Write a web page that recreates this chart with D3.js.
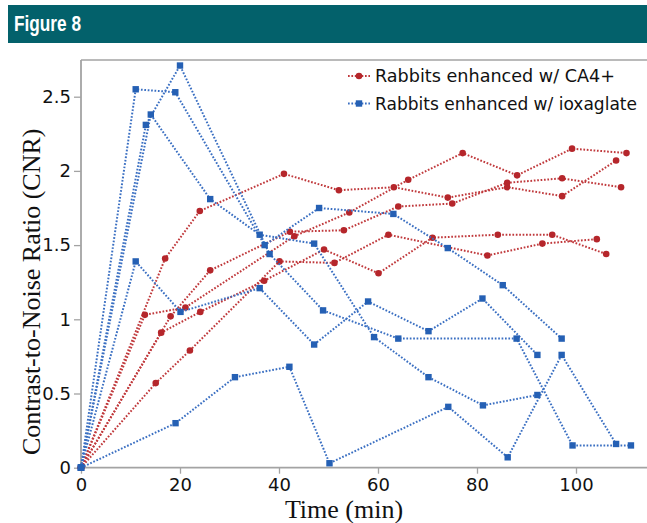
<!DOCTYPE html>
<html><head><meta charset="utf-8">
<script src="https://cdn.jsdelivr.net/npm/d3@7"></script>
<style>html,body{margin:0;padding:0;background:#fff;overflow:hidden}</style>
</head><body>
<svg id="c" width="647" height="523"></svg>
<script>
// ---- data: [time (min), CNR] ----
const legendLabels = ["Rabbits enhanced w/ CA4+", "Rabbits enhanced w/ ioxaglate"];
const xTicks = [0, 20, 40, 60, 80, 100];
const yTicks = [0, 0.5, 1, 1.5, 2, 2.5];
const yTickLabels = ["0", "0.5", "1", "1.5", "2", "2.5"];

// CA4+ rabbits
const ca1 = [[0,0],[17.0,1.41],[24.0,1.73],[41.0,1.98],[52.1,1.87],[63.2,1.89],[74.1,1.82],[86.1,1.89],[97.2,1.83],[108.1,2.07]];
const ca2 = [[0,0],[18.1,1.02],[26.1,1.33],[42.2,1.59],[53.1,1.60],[64.1,1.76],[75.0,1.78],[86.1,1.92],[97.2,1.95],[109.1,1.89]];
const ca3 = [[0,0],[12.9,1.03],[21.1,1.08],[43.1,1.56],[54.2,1.72],[66.1,1.94],[77.1,2.12],[88.1,1.97],[99.2,2.15],[110.2,2.12]];
const ca4 = [[0,0],[16.2,0.91],[24.1,1.05],[37.0,1.26],[49.1,1.47],[60.1,1.31],[71.0,1.55],[84.2,1.57],[95.2,1.57],[106.1,1.44]];
const ca5 = [[0,0],[15.1,0.57],[22.0,0.79],[40.1,1.39],[51.2,1.38],[62.1,1.57],[82.1,1.43],[93.2,1.51],[104.2,1.54]];

// ioxaglate rabbits
const iox1 = [[0,0],[11.05,2.55],[19.05,2.53],[37.1,1.50],[48.1,1.75],[63.1,1.71],[74.1,1.48],[85.2,1.23],[97.1,0.87]];
const iox2 = [[0,0],[13.1,2.31],[20.0,2.71],[38.1,1.44],[48.9,1.06],[64.1,0.87],[88.0,0.87],[99.3,0.15],[111.1,0.15]];
const iox3 = [[0,0],[14.1,2.38],[26.1,1.81],[36.1,1.57],[47.1,1.51],[59.2,0.88],[70.2,0.61],[81.2,0.42],[92.2,0.49]];
const iox4 = [[0,0],[11.05,1.39],[20.1,1.05],[36.1,1.21],[47.1,0.83],[58.0,1.12],[70.2,0.92],[81.1,1.14],[92.2,0.76]];
const iox5 = [[0,0],[19.1,0.30],[31.1,0.61],[42.1,0.68],[50.2,0.03],[74.2,0.41],[86.2,0.07],[97.1,0.76],[108.1,0.16]];

const caSeries = [ca1, ca2, ca3, ca4, ca5];
const ioxSeries = [iox1, iox2, iox3, iox4, iox5];

// ---- drawing ----
const W = 647, H = 523;
const RED = "#b5262b", BLUE = "#2560b4";
const RED_LINE = "#c0393c", BLUE_LINE = "#3a6fc2";
const AXIS = "#a3a3a3";
const svg = d3.select("#c");

// header band
svg.append("rect").attr("x", 8).attr("y", 5).attr("width", W - 8).attr("height", 38).attr("fill", "#03616b");
svg.append("text").attr("x", 14).attr("y", 31)
  .attr("font-family", "'Liberation Sans','DejaVu Sans',sans-serif")
  .attr("font-weight", "bold").attr("font-size", 22).attr("fill", "#fff")
  .attr("textLength", 67).attr("lengthAdjust", "spacingAndGlyphs").text("Figure 8");

const x = d3.scaleLinear().domain([0, 100]).range([81, 576]);
const y = d3.scaleLinear().domain([0, 2.5]).range([467.7, 96.7]);
const plotTop = 60;

// frame lines
svg.append("line").attr("x1", x(0)).attr("x2", W).attr("y1", plotTop).attr("y2", plotTop)
  .attr("stroke", AXIS).attr("stroke-width", 1.6);

const tickFont = "'DejaVu Sans',sans-serif";
const xAxis = d3.axisBottom(x).tickValues(xTicks).tickFormat(d3.format("d")).tickSize(6).tickSizeOuter(0).tickPadding(5);
const gx = svg.append("g").attr("transform", `translate(0,${y(0)})`).call(xAxis);
gx.select(".domain").remove();
gx.append("line").attr("x1", x(0)).attr("x2", W).attr("stroke", AXIS).attr("stroke-width", 1.8);
gx.selectAll(".tick line").attr("stroke", AXIS).attr("stroke-width", 1.3);
gx.selectAll(".tick text").attr("font-family", tickFont).attr("font-size", 18).attr("fill", "#111");

const yAxis = d3.axisLeft(y).tickValues(yTicks).tickFormat((d, i) => yTickLabels[i]).tickSize(7).tickSizeOuter(0).tickPadding(3);
const gy = svg.append("g").attr("transform", `translate(${x(0)},0)`).call(yAxis);
gy.select(".domain").remove();
gy.append("line").attr("y1", plotTop).attr("y2", y(0)).attr("stroke", AXIS).attr("stroke-width", 1.8);
gy.selectAll(".tick line").attr("stroke", AXIS).attr("stroke-width", 1.3);
gy.selectAll(".tick text").attr("font-family", tickFont).attr("font-size", 18).attr("fill", "#111");

// axis titles
svg.append("text").attr("x", 344).attr("y", 518).attr("text-anchor", "middle")
  .attr("font-family", "'Liberation Serif','DejaVu Serif',serif").attr("font-size", 26).attr("fill", "#111")
  .text("Time (min)");
svg.append("text").attr("transform", "translate(40,455) rotate(-90)").attr("text-anchor", "start")
  .attr("font-family", "'Liberation Serif','DejaVu Serif',serif").attr("font-size", 26).attr("fill", "#111")
  .text("Contrast-to-Noise Ratio (CNR)");

const line = d3.line().x(d => x(d[0])).y(d => y(d[1]));
const dash = "1.7,1.7";

function drawSeries(list, lineColor, color, shape) {
  const g = svg.append("g");
  list.forEach(s => {
    g.append("path").attr("d", line(s)).attr("fill", "none").attr("stroke", lineColor)
      .attr("stroke-width", 2).attr("stroke-dasharray", dash);
  });
  list.forEach(s => {
    if (shape === "circle") {
      g.selectAll(null).data(s).enter().append("circle")
        .attr("cx", d => x(d[0])).attr("cy", d => y(d[1])).attr("r", 3.3).attr("fill", color);
    } else {
      g.selectAll(null).data(s).enter().append("rect")
        .attr("x", d => x(d[0]) - 3.2).attr("y", d => y(d[1]) - 3.2).attr("width", 6.4).attr("height", 6.4).attr("fill", color);
    }
  });
}
drawSeries(caSeries, RED_LINE, RED, "circle");
drawSeries(ioxSeries, BLUE_LINE, BLUE, "square");

// legend
const legend = svg.append("g");
const legendWidths = [240, 262];
[[RED_LINE, RED, "circle", 76], [BLUE_LINE, BLUE, "square", 103.5]].forEach((L, i) => {
  const [lc, c, shape, ly] = L;
  legend.append("line").attr("x1", 348).attr("x2", 370).attr("y1", ly).attr("y2", ly)
    .attr("stroke", lc).attr("stroke-width", 2).attr("stroke-dasharray", dash);
  if (shape === "circle") legend.append("circle").attr("cx", 359).attr("cy", ly).attr("r", 3.3).attr("fill", c);
  else legend.append("rect").attr("x", 355.8).attr("y", ly - 3.2).attr("width", 6.4).attr("height", 6.4).attr("fill", c);
  legend.append("text").attr("x", 375).attr("y", ly + 6.4)
    .attr("font-family", tickFont).attr("font-size", 17.5).attr("fill", "#111")
    .attr("textLength", legendWidths[i]).attr("lengthAdjust", "spacingAndGlyphs")
    .text(legendLabels[i]);
});
</script>
</body></html>
